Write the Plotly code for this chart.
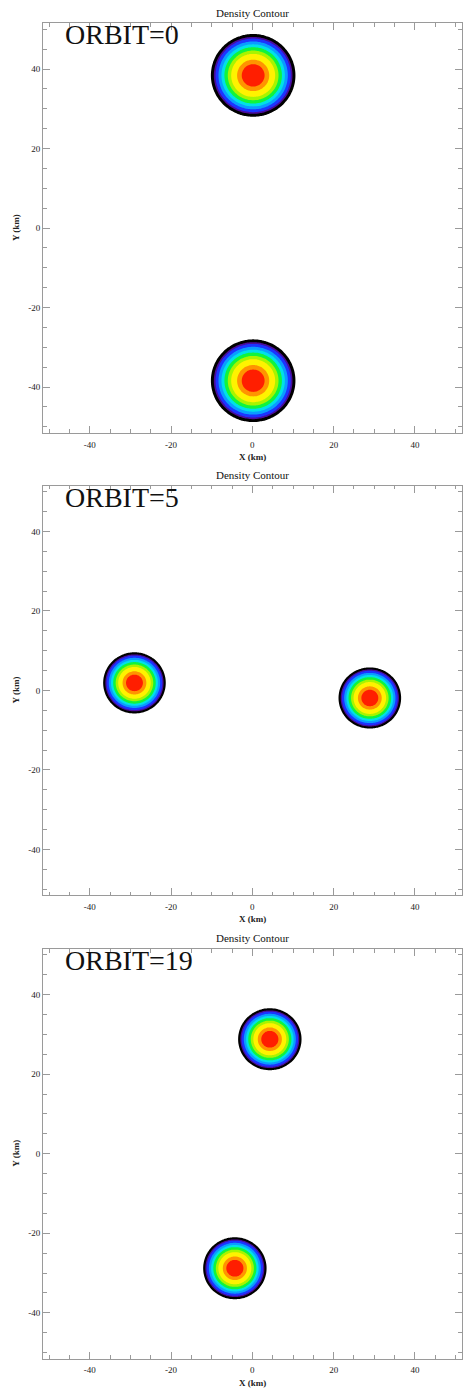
import numpy as np
import plotly.graph_objects as go

W, H = 464, 1391

# Orbit snapshots: two density blobs per snapshot (km)
orbits = [0, 5, 19]
blob_x = [[0.2, 0.2], [-29.0, 28.9], [4.3, -4.3]]
blob_y = [[38.4, -38.4], [1.9, -1.9], [28.8, -28.8]]
blob_r = [[10.4, 10.4], [7.7, 7.7], [7.8, 7.8]]

# Contour bands, outermost first: fraction of blob radius and fill colour
band_frac = [1.00, 0.93, 0.89, 0.82, 0.75, 0.68, 0.60, 0.52, 0.38, 0.27]
band_color = ['#000000', '#4a0c9c', '#1c34ff', '#0a9cff', '#00e0e8',
              '#10f43c', '#a8f400', '#fff200', '#ff9400', '#ff1e00']

tick_vals = [-40, -20, 0, 20, 40]
tick_text = ['-40', '-20', '0', '20', '40']
axis_range = [-51.5, 51.5]

# Panel frames in pixels
plot_left, plot_right = 43.0, 461.7
panel_tops = [23.3, 485.7, 949.0]
panel_h = 409.5

SERIF = 'Liberation Serif'
FRAME = '#9a9a9a'

fig = go.Figure()

for p in range(3):
    suffix = '' if p == 0 else str(p + 1)
    for cx, cy, r in zip(blob_x[p], blob_y[p], blob_r[p]):
        xs = np.linspace(cx - 1.1 * r, cx + 1.1 * r, 71)
        ys = np.linspace(cy - 1.1 * r, cy + 1.1 * r, 71)
        gx, gy = np.meshgrid(xs, ys)
        dist = np.round(np.hypot(gx - cx, gy - cy) / r, 4)
        for frac, col in zip(band_frac, band_color):
            # constraint contours shade the region failing the test,
            # i.e. everything within frac of the blob radius
            fig.add_trace(go.Contour(
                x=np.round(xs, 3), y=np.round(ys, 3), z=dist,
                xaxis='x' + suffix, yaxis='y' + suffix,
                contours=dict(type='constraint', operation='>', value=frac),
                fillcolor=col, line=dict(width=0),
                showscale=False, showlegend=False, hoverinfo='skip'))

axis_common = dict(
    range=axis_range, showgrid=False, zeroline=False,
    showline=True, linecolor=FRAME, linewidth=1, mirror='allticks',
    ticks='inside', ticklen=7, tickwidth=1, tickcolor=FRAME,
    tickmode='array', tickvals=tick_vals, ticktext=tick_text,
    tickfont=dict(family=SERIF, size=9, color='#222222'),
    minor=dict(ticks='inside', ticklen=3.5, tickwidth=1, tickcolor=FRAME,
               tickmode='linear', tick0=0, dtick=5),
    fixedrange=True)

x_dom = [plot_left / W, plot_right / W]
annotations = []
layout_axes = {}
for p in range(3):
    top = panel_tops[p]
    bot = top + panel_h
    y_dom = [1 - bot / H, 1 - top / H]
    suffix = '' if p == 0 else str(p + 1)
    layout_axes['xaxis' + suffix] = dict(axis_common, domain=x_dom,
                                         anchor='y' + suffix, ticklabelstandoff=3)
    layout_axes['yaxis' + suffix] = dict(axis_common, domain=y_dom,
                                         anchor='x' + suffix)
    xc = (plot_left + plot_right) / 2 / W
    annotations += [
        dict(text='Density Contour', x=xc, y=1 - (top - 10.5) / H,
             xref='paper', yref='paper', showarrow=False,
             font=dict(family=SERIF, size=11, color='#111111'),
             xanchor='center', yanchor='middle'),
        dict(text='ORBIT=%d' % orbits[p], x=63 / W, y=1 - (top + 11.5) / H,
             xref='paper', yref='paper', showarrow=False,
             font=dict(family=SERIF, size=28, color='#111111'),
             xanchor='left', yanchor='middle'),
        dict(text='<b>X (km)</b>', x=xc, y=1 - (bot + 24) / H,
             xref='paper', yref='paper', showarrow=False,
             font=dict(family=SERIF, size=9, color='#222222'),
             xanchor='center', yanchor='middle'),
        dict(text='<b>Y (km)</b>', x=16 / W, y=1 - (top + panel_h / 2) / H,
             xref='paper', yref='paper', showarrow=False, textangle=-90,
             font=dict(family=SERIF, size=9, color='#222222'),
             xanchor='center', yanchor='middle'),
    ]

fig.update_layout(
    width=W, height=H, margin=dict(l=0, r=0, t=0, b=0),
    paper_bgcolor='white', plot_bgcolor='white',
    annotations=annotations, **layout_axes)

fig.write_html('out.html')
